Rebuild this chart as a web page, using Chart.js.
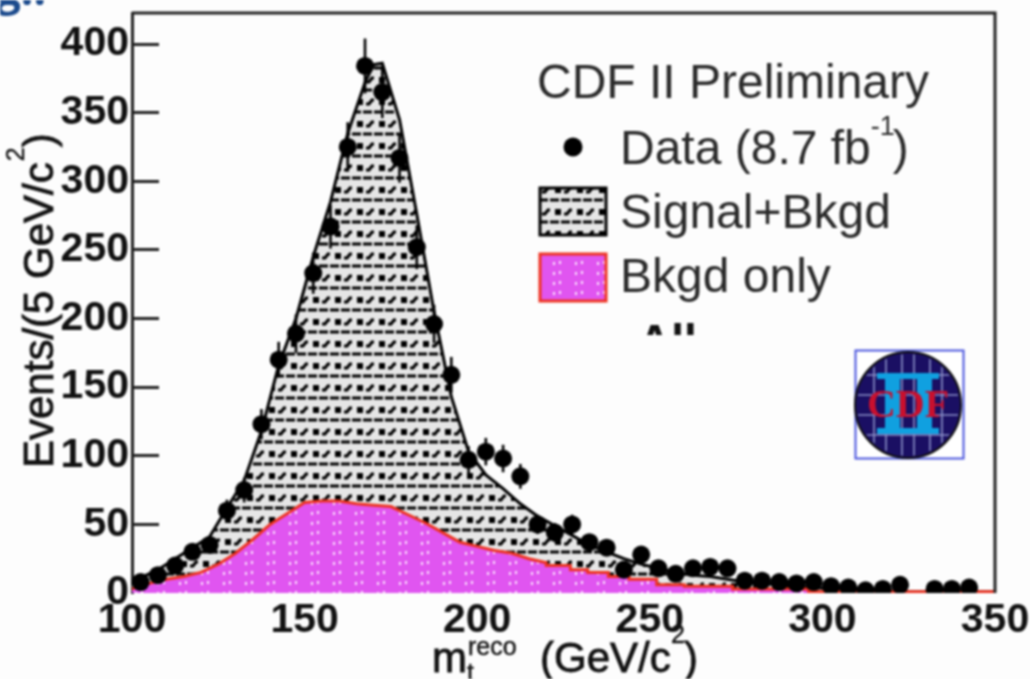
<!DOCTYPE html>
<html><head><meta charset="utf-8">
<style>html,body{margin:0;padding:0;background:#fdfdfd;overflow:hidden}canvas{display:block;filter:blur(0.8px)}</style>
<script src="https://cdn.jsdelivr.net/npm/chart.js@4"></script>
</head><body><canvas id="c" width="1030" height="679"></canvas>
<script>
const signalX=[100,102.5,107.5,112.5,117.5,122.5,127.5,132.5,137.5,142.5,147.5,152.5,157.5,162.5,167.5,170,172.5,177.5,182.5,187.5,192.5,197.5,202.5,207.5,212.5,217.5,222.5,227.5,232.5,237.5,242.5,247.5,252.5,257.5,262.5,267.5,272.5,277.5,282.5,287.5,292.5,297.5,302.5,307.5,312.5,317.5,322.5,327.5,332.5,337.5,342.5,350];
const signalPlusBkgd=[8,11,17,25,33,41,62,82,118,166,200,245,285,335,372,385,386,345,276,205,143,103,86,76,65,56,49,42,35,30,25,21,18,15,13,12,10,8,7,6,5,4,3,3,2,2,1,1,1,1,1,1];
const bkgdX=[100,105,110,115,120,125,130,135,140,145,150,155,160,165,170,175,180,185,190,195,200,205,210,215,220,220,227,227,232,232,238,238,244,244,252,252,260,260,274,274,296,296,350];
const bkgdOnly=[3,7,10,12,15,21,29,39,50,58,66,67,67,65,64,63,57,51,44,37,34,31,29,25,22,20,20,17,17,15,15,12,12,10,10,6,6,5,5,3,3,1,1];
const dataCenters=[102.5,107.5,112.5,117.5,122.5,127.5,132.5,137.5,142.5,147.5,152.5,157.5,162.5,167.5,172.5,177.5,182.5,187.5,192.5,197.5,202.5,207.5,212.5,217.5,222.5,227.5,232.5,237.5,242.5,247.5,252.5,257.5,262.5,267.5,272.5,277.5,282.5,287.5,292.5,297.5,302.5,307.5,312.5,317.5,322.5,332.5,337.5,342.5];
const dataValues=[8,13,20,30,35,60,75,123,170,189,233,267,325,384,365,317,252,196,159,97,103,98,85,50,44,50,37,33,17,28,18,14,18,19,18,9,9,8,7,8,5,4,2,3,6,3,3,4];
const dataErrors=[3,4,4,5,6,8,9,11,13,14,15,16,18,20,19,18,16,14,13,10,10,10,9,7,7,7,6,6,4,5,4,4,4,4,4,3,3,3,3,3,2,2,1,2,2,2,2,2];
const yTicks=[0,50,100,150,200,250,300,350,400];
const xTicks=[100,150,200,250,300,350];

const off=(w,h)=>{const c=document.createElement('canvas');c.width=w;c.height=h;return c.getContext('2d')};
function hatchPattern(){
  const g=off(22,22),s=g.canvas;
  g.fillStyle='#e6e6e6';g.fillRect(0,0,22,22);
  g.strokeStyle='#000';g.fillStyle='#000';
  g.lineWidth=3;
  [[0,9],[11,20]].forEach(([a,b])=>{g.beginPath();g.moveTo(a,2);g.lineTo(b,2);g.stroke()});
  g.fillRect(5,11,6,6);
  g.lineWidth=3;g.beginPath();g.moveTo(14,16);g.lineTo(17,16);g.lineTo(20,12);g.lineTo(22,12);g.stroke();
  return document.createElement('canvas').getContext('2d').createPattern(s,'repeat');
}
function dotPattern(){
  const g=off(22,20),s=g.canvas;
  g.fillStyle='#E055F0';g.fillRect(0,0,22,20);
  g.fillStyle='#fbe4fd';
  [[3,2],[9,1],[3,12],[9,11]].forEach(([x,y])=>g.fillRect(x,y,2,3));
  return document.createElement('canvas').getContext('2d').createPattern(s,'repeat');
}
const hatch=hatchPattern(),dots=dotPattern();
const toXY=(xs,ys)=>xs.map((x,i)=>({x,y:ys[i]}));

function txt(ctx,s,x,y,font,color,stroke){
  ctx.font=font;ctx.fillStyle=color||'#111';ctx.fillText(s,x,y);
  if(stroke){ctx.lineWidth=stroke;ctx.strokeStyle=color||'#111';ctx.strokeText(s,x,y)}
  return ctx.measureText(s).width;
}
const errorBars={id:'errorBars',afterDatasetsDraw(chart){
  const {ctx,scales:{x,y}}=chart;ctx.save();ctx.strokeStyle='#000';ctx.lineWidth=2.6;
  dataCenters.forEach((c,i)=>{const px=x.getPixelForValue(c);
    ctx.beginPath();ctx.moveTo(px,y.getPixelForValue(dataValues[i]-dataErrors[i]));
    ctx.lineTo(px,y.getPixelForValue(dataValues[i]+dataErrors[i]));ctx.stroke()});
  ctx.restore();
}};
const decor={id:'decor',afterDraw(chart){
  const {ctx,chartArea:a}=chart;ctx.save();
  ctx.textAlign='left';ctx.textBaseline='alphabetic';
  ctx.strokeStyle='#222';ctx.lineWidth=3;ctx.beginPath();
  ctx.moveTo(a.left,a.top);ctx.lineTo(a.right,a.top);ctx.lineTo(a.right,a.bottom);ctx.stroke();
  txt(ctx,'g..',-4,5,'bold 44px "Open Sans"','#1b4a8c');
  const F='"Liberation Sans"',c='#2a2a2a';
  txt(ctx,'CDF II Preliminary',537,98,'48px '+F,c);
  let w=txt(ctx,'Data (8.7 fb',620,164,'48px '+F,c);
  txt(ctx,'-1',620+w,135,'27px '+F,c);
  txt(ctx,')',620+w+22,164,'48px '+F,c);
  txt(ctx,'Signal+Bkgd',620,228,'48px '+F,c);
  txt(ctx,'Bkgd only',620,292,'48px '+F,c);
  ctx.fillStyle='#000';ctx.beginPath();ctx.arc(573,147,9.5,0,7);ctx.fill();
  ctx.fillStyle=hatch;ctx.fillRect(540,188,66,47);ctx.strokeStyle='#000';ctx.lineWidth=3;ctx.strokeRect(540,188,66,47);
  ctx.fillStyle=dots;ctx.fillRect(540,254,66,47);ctx.strokeStyle='#EE3322';ctx.lineWidth=3;ctx.strokeRect(540,254,66,47);
  ctx.save();ctx.beginPath();ctx.rect(620,320,100,15);ctx.clip();
  txt(ctx,'All',638,357,'bold 46px '+F,'#111');ctx.restore();
  ctx.fillStyle='#fff';ctx.fillRect(855,350,108,108);
  ctx.strokeStyle='#4a55dd';ctx.lineWidth=2;ctx.strokeRect(855.5,350.5,108,108);
  ctx.fillStyle='#1a0f63';ctx.beginPath();ctx.arc(908,405,53,0,7);ctx.fill();
  ctx.strokeStyle='#111';ctx.lineWidth=2;ctx.stroke();
  ctx.save();ctx.beginPath();ctx.arc(908,405,51,0,7);ctx.clip();
  ctx.strokeStyle='#8d92c8';ctx.lineWidth=1.6;
  [-34,-22,-6,6,22,34].forEach(d=>{ctx.beginPath();ctx.moveTo(908+d,350);ctx.lineTo(908+d,460);ctx.stroke();});
  [-30,-10,10,30].forEach(d=>{ctx.beginPath();ctx.moveTo(850,405+d);ctx.lineTo(966,405+d);ctx.stroke();});
  ctx.restore();
  ctx.fillStyle='#10a0e0';ctx.fillRect(877,373,62,6);ctx.fillRect(877,428,62,6);ctx.fillRect(885,373,15,60);ctx.fillRect(917,373,15,60);
  ctx.textAlign='center';txt(ctx,'CDF',908,417,'bold 40px "Liberation Serif"','#c8102e');
  ctx.textAlign='left';
  const d='#111';
  w=txt(ctx,'m',432,672,'42px '+F,d,.8);
  txt(ctx,'reco',468,655,'25px '+F,d,.4);
  txt(ctx,'t',467,681,'25px '+F,d,.4);
  w=txt(ctx,'(GeV/c',540,672,'42px '+F,d,.8);
  txt(ctx,'2',671,643,'25px '+F,d,.4);
  txt(ctx,')',684,672,'42px '+F,d,.8);
  ctx.save();ctx.translate(53,468);ctx.rotate(-Math.PI/2);
  w=txt(ctx,'Events/(5 GeV/c',0,0,'42px '+F,d,.8);
  txt(ctx,'2',w+1,-29,'25px '+F,d,.4);
  txt(ctx,')',w+15,0,'42px '+F,d,.8);
  ctx.restore();
  ctx.restore();
}};
new Chart(document.getElementById('c'),{
  type:'line',
  data:{datasets:[
    {label:'Data (8.7 fb-1)',data:toXY(dataCenters,dataValues),showLine:false,pointRadius:9,pointBackgroundColor:'#000',pointBorderWidth:0,order:1},
    {label:'Bkgd only',data:toXY(bkgdX,bkgdOnly),fill:'origin',tension:0,backgroundColor:dots,borderColor:'#EE3322',borderWidth:3,pointRadius:0,order:2},
    {label:'Signal+Bkgd',data:toXY(signalX,signalPlusBkgd),fill:'origin',tension:0,backgroundColor:hatch,borderColor:'#000',borderWidth:3,pointRadius:0,order:3}
  ]},
  options:{responsive:false,animation:false,devicePixelRatio:1,
    layout:{autoPadding:false,padding:{top:13,right:35,left:0,bottom:0}},
    plugins:{legend:{display:false},title:{display:false},tooltip:{enabled:false}},
    scales:{
      x:{type:'linear',min:100,max:350,afterFit(s){s.height=86;s.paddingLeft=s.paddingRight=0},
        afterBuildTicks(s){s.ticks=xTicks.map(v=>({value:v}))},
        border:{display:false},grid:{display:false,drawTicks:false},
        ticks:{autoSkip:false,maxRotation:0,padding:3,color:'#111',font:{family:'"Liberation Sans"',size:41,weight:'bold'}}},
      y:{type:'linear',min:0,max:422.6,afterFit(s){s.width=132;s.paddingTop=s.paddingBottom=0},
        afterBuildTicks(s){s.ticks=yTicks.map(v=>({value:v}))},
        border:{color:'#222',width:3},
        grid:{drawOnChartArea:false,drawTicks:true,tickLength:-27,tickWidth:3,tickColor:c=>c.tick&&c.tick.value===0?'rgba(0,0,0,0)':'#222'},
        ticks:{padding:30,color:'#111',font:{family:'"Liberation Sans"',size:41,weight:'bold'}}}
    }
  },
  plugins:[errorBars,decor]
});
</script></body></html>
